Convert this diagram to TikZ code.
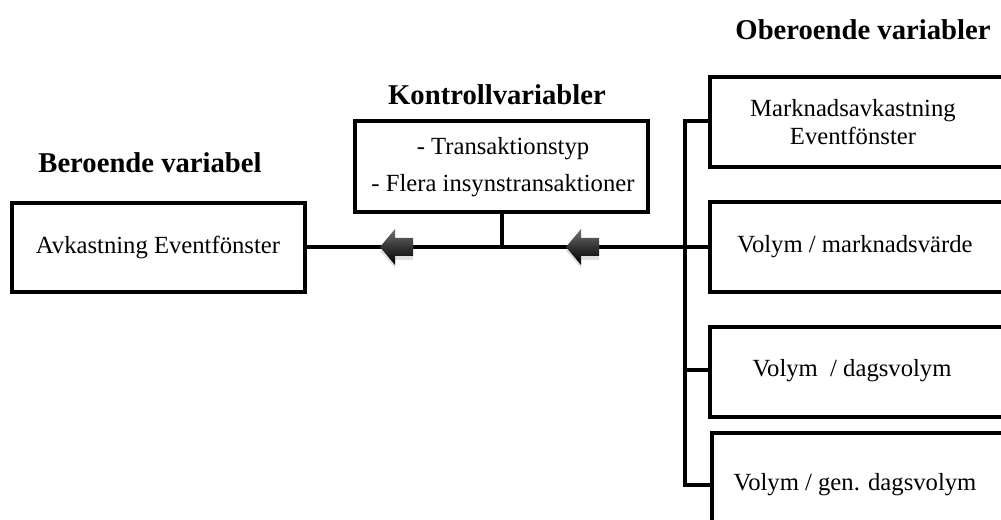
\documentclass[tikz,border=0pt]{standalone}
\usepackage{fontspec}
\setmainfont{Liberation Serif}
\begin{document}
\begin{tikzpicture}[x=0.75pt,y=-0.75pt,
  box/.style={draw=black,line width=3.4pt,fill=white,inner sep=0pt},
  conn/.style={line width=3.6pt,line cap=butt},
  title/.style={font=\fontsize{21.5}{24}\selectfont\bfseries},
  txt/.style={font=\fontsize{18.5}{21}\selectfont,align=center},
  blockarrow/.pic={
    \fill[black!20,opacity=0.6] (0,4) -- (15,-13) -- (15,-5) -- (33,-5) -- (33,13) -- (15,13) -- (15,21) -- cycle;
    \shade[top color=black!55,bottom color=black,middle color=black!80] (0,0) -- (15,-18) -- (15,-9) -- (33,-9) -- (33,9) -- (15,9) -- (15,18) -- cycle;
  }]
\useasboundingbox (0,0) rectangle (1001,520);
\clip (0,0) rectangle (1001,520);

\node[title] (tBer) at (150,163) {Beroende variabel};
\node[title] (tKon) at (497,95) {Kontrollvariabler};
\node[title] (tObe) at (863,30) {Oberoende variabler};

\draw[box] (12,203) rectangle (305,292);
\coordinate (depR) at (305,247);
\node[txt] (dep) at (158,247) {Avkastning Eventfönster};

\draw[box] (355,121) rectangle (648,212);
\coordinate (ctrlB) at (502,212);
\node[txt,font=\fontsize{18.5}{27.5}\selectfont] (ctrl) at (503,167) {- Transaktionstyp\\- Flera insynstransaktioner};

\draw[box] (710,77) rectangle (1010,167);
\node[txt,font=\fontsize{18.5}{21}\selectfont] (i1) at (853,122) {Marknadsavkastning\\Eventfönster};
\draw[box] (710,202) rectangle (1010,292);
\node[txt] (i2) at (855,247) {Volym / marknadsvärde};
\draw[box] (710,327) rectangle (1010,417);
\node[txt] (i3) at (852,371) {Volym \ / dagsvolym};
\draw[box] (712,433) rectangle (1010,530);
\node[txt] (i4) at (855,485) {Volym / gen. dagsvolym};

\coordinate (m) at (502,247);
\coordinate (bx) at (685,247);
\coordinate (b1) at (685,121);
\coordinate (b3) at (685,370);
\coordinate (b4) at (685,485);

\draw[conn] (depR) -- (bx);
\draw[conn] (ctrlB) -- (m);
\draw[conn] (710,121) -- (b1) -- (b4) -- (712,485);
\draw[conn] (b3) -- (710,370);
\draw[conn] (bx) -- (710,247);

\pic at (380,247) {blockarrow};
\pic at (566,247) {blockarrow};
\end{tikzpicture}
\end{document}
